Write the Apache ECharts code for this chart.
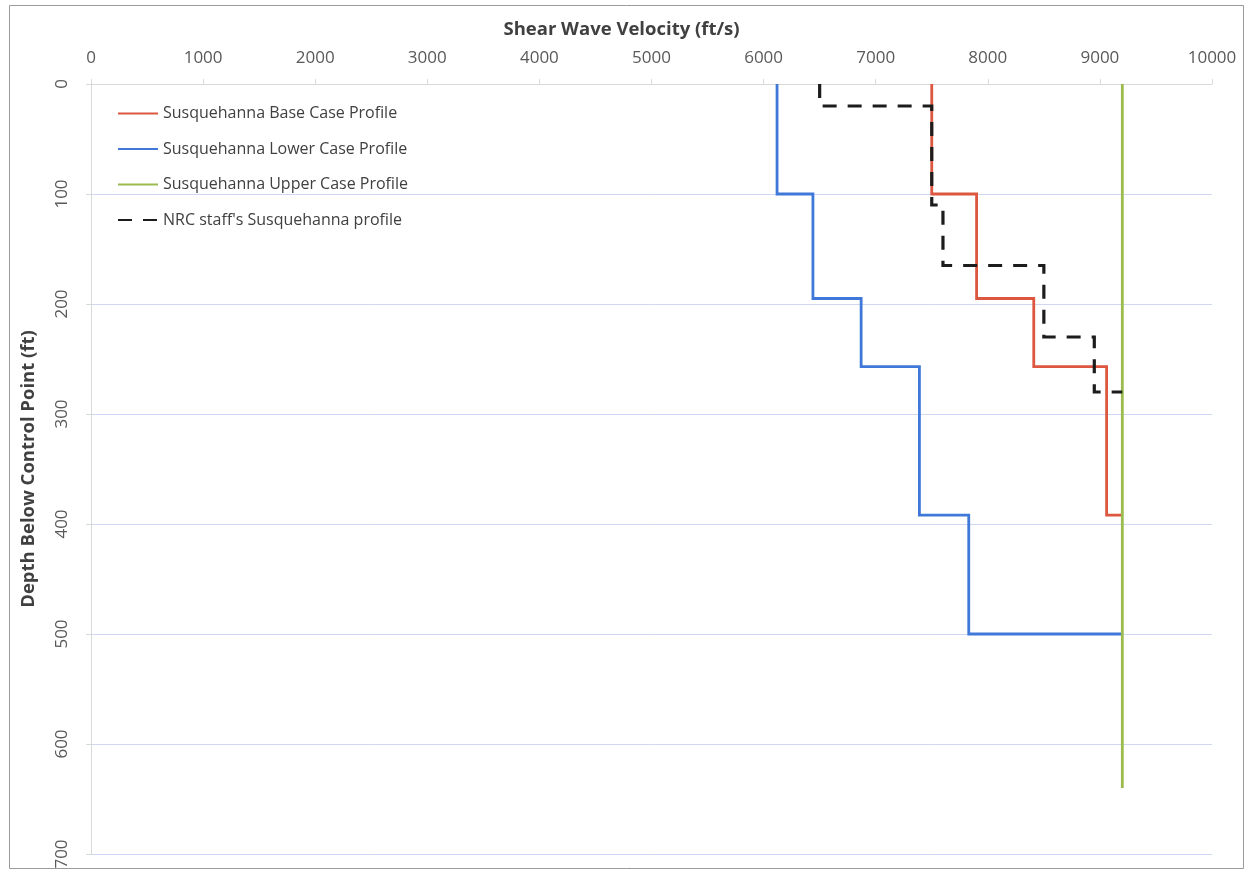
<!DOCTYPE html>
<html>
<head>
<meta charset="utf-8">
<script src="https://cdn.jsdelivr.net/npm/echarts@6/dist/echarts.min.js"></script>
<style>
  html, body { margin: 0; padding: 0; background: #ffffff; }
  #chart { width: 1250px; height: 875px; }
</style>
</head>
<body>
<div id="chart"></div>
<script>
// Shear-wave velocity profiles (ft/s) versus depth below control point (ft).
// Each profile is a step line given by its vertices.
const seriesNames = [
  'Susquehanna Base Case Profile',
  'Susquehanna Lower Case Profile',
  'Susquehanna Upper Case Profile',
  "NRC staff's Susquehanna profile"
];

const baseVelocity  = [7500, 7500, 7900, 7900, 8410, 8410, 9060, 9060, 9200];
const baseDepth     = [0,    100,  100,  195,  195,  257,  257,  392,  392];

const lowerVelocity = [6120, 6120, 6440, 6440, 6870, 6870, 7390, 7390, 7830, 7830, 9200];
const lowerDepth    = [0,    100,  100,  195,  195,  257,  257,  392,  392,  500,  500];

const upperVelocity = [9200, 9200];
const upperDepth    = [0,    640];

const nrcVelocity   = [6500, 6500, 7500, 7500, 7600, 7600, 8500, 8500, 8950, 8950, 9200];
const nrcDepth      = [0,    20,   20,   110,  110,  165,  165,  230,  230,  280,  280];

const velocityTicks = [0, 1000, 2000, 3000, 4000, 5000, 6000, 7000, 8000, 9000, 10000];
const depthTicks    = [0, 100, 200, 300, 400, 500, 600, 700];

const pairs = (xs, ys) => xs.map((v, i) => [v, ys[i]]);

const FONT = '"Open Sans"';
const chart = echarts.init(document.getElementById('chart'), null, { renderer: 'canvas' });

const lineSeries = (name, xs, ys, color, width, type) => ({
  name: name,
  type: 'line',
  data: pairs(xs, ys),
  symbol: 'none',
  showSymbol: false,
  animation: false,
  lineStyle: { color: color, width: width, type: type, cap: 'butt', join: 'miter' },
  itemStyle: { color: color }
});

chart.setOption({
  backgroundColor: '#ffffff',
  animation: false,
  textStyle: { fontFamily: FONT },
  grid: { left: 91, right: 38, top: 84, bottom: 21, containLabel: false },
  graphic: [{
    type: 'rect',
    shape: { x: 9.5, y: 5.5, width: 1234, height: 863 },
    style: { fill: 'none', stroke: '#9a9a9a', lineWidth: 1 },
    silent: true
  }],
  legend: {
    orient: 'vertical',
    left: 112,
    top: 99,
    itemWidth: 40,
    itemHeight: 14,
    itemGap: 16.5,
    data: seriesNames,
    itemStyle: { opacity: 0 },
    textStyle: { fontFamily: FONT, fontSize: 16, color: '#404040', lineHeight: 19 }
  },
  xAxis: {
    type: 'value',
    position: 'top',
    min: velocityTicks[0],
    max: velocityTicks[velocityTicks.length - 1],
    interval: 1000,
    name: 'Shear Wave Velocity (ft/s)',
    nameLocation: 'middle',
    nameGap: 45,
    nameTextStyle: { fontFamily: FONT, fontSize: 18.5, fontWeight: 'bold', color: '#404040', padding: [0, 60, 0, 0] },
    axisLine: { show: true, lineStyle: { color: '#d9d9d9', width: 1 } },
    axisTick: { show: true, length: 5, lineStyle: { color: '#d9d9d9' } },
    axisLabel: { fontFamily: FONT, fontSize: 17, color: '#595959', margin: 17, formatter: v => String(v) },
    splitLine: { show: false }
  },
  yAxis: {
    type: 'value',
    inverse: true,
    min: depthTicks[0],
    max: depthTicks[depthTicks.length - 1],
    interval: 100,
    name: 'Depth Below Control Point (ft)',
    nameLocation: 'middle',
    nameGap: 53,
    nameRotate: 90,
    nameTextStyle: { fontFamily: FONT, fontSize: 18.5, fontWeight: 'bold', color: '#404040' },
    axisLine: { show: true, lineStyle: { color: '#d9d9d9', width: 1 } },
    axisTick: { show: true, length: 5, lineStyle: { color: '#d9d9d9' } },
    axisLabel: { fontFamily: FONT, fontSize: 17, color: '#595959', rotate: 90, margin: 20, formatter: v => String(v) },
    splitLine: { show: true, lineStyle: { color: '#cfd7f2', width: 1 } }
  },
  series: [
    lineSeries(seriesNames[0], baseVelocity,  baseDepth,  '#dc5640', 2.8, 'solid'),
    lineSeries(seriesNames[1], lowerVelocity, lowerDepth, '#3f78d9', 2.8, 'solid'),
    lineSeries(seriesNames[2], upperVelocity, upperDepth, '#9bbb4e', 2.8, 'solid'),
    lineSeries(seriesNames[3], nrcVelocity,   nrcDepth,   '#1c1c1c', 3.2, [14, 11])
  ]
});
</script>
</body>
</html>
